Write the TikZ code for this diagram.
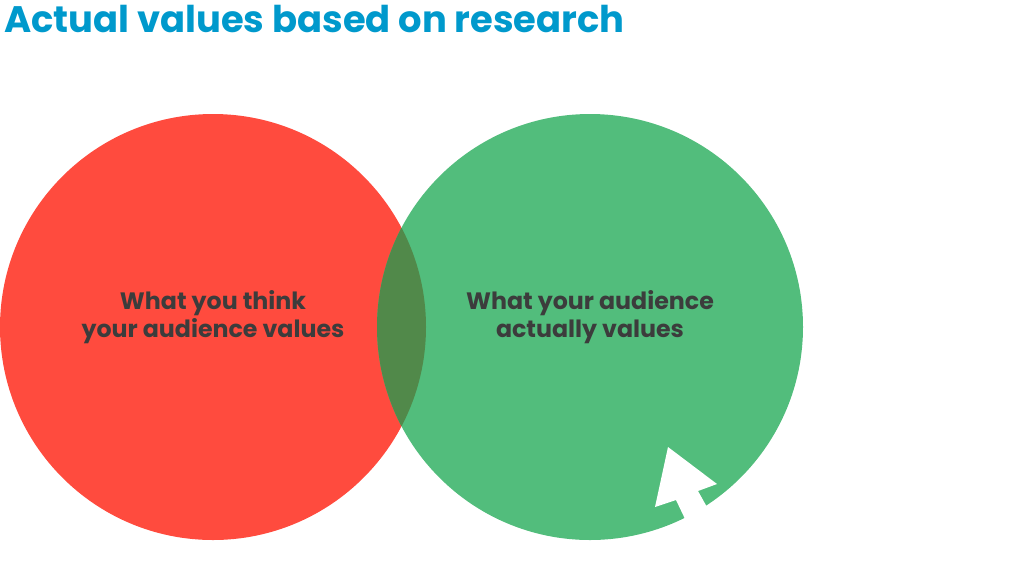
\documentclass[tikz,border=0pt]{standalone}
\usepackage{fontspec}
\setmainfont{Poppins}
\definecolor{titleblue}{HTML}{0099CC}
\definecolor{thinkred}{HTML}{FF4B3E}
\definecolor{valuegreen}{HTML}{52BD7C}
\definecolor{overlapgreen}{HTML}{51894A}
\definecolor{labelgray}{HTML}{3C3C3C}
\begin{document}
\begin{tikzpicture}[x=0.02cm,y=-0.02cm,
    circlelabel/.style={text=labelgray,font=\fontsize{13.5}{16}\selectfont\bfseries,align=center}]
      % Frame
      \useasboundingbox (0,0) rectangle (1024,562);

      % Title
      \node[anchor=west,text=titleblue,font=\fontsize{21}{24}\selectfont\bfseries] (title) at (-2,19) {Actual values based on research};

      % Circles
      \fill[thinkred] (213,327) circle (213);
      \fill[valuegreen] (590,327) circle (213);
      \begin{scope}
          \clip (213,327) circle (213);
          \fill[overlapgreen] (590,327) circle (213);
        \end{scope}

      % Labels
      \node[circlelabel] (think) at (213,317) {What you think\\your audience values};
      \node[circlelabel] (actual) at (590,317) {What your audience\\actually values};

      % Pointer
      \fill[white] (668,447) -- (717,484) -- (698,491) -- (712,516) -- (686,521) -- (676,500) -- (655,507) -- cycle;

    \end{tikzpicture}
\end{document}
